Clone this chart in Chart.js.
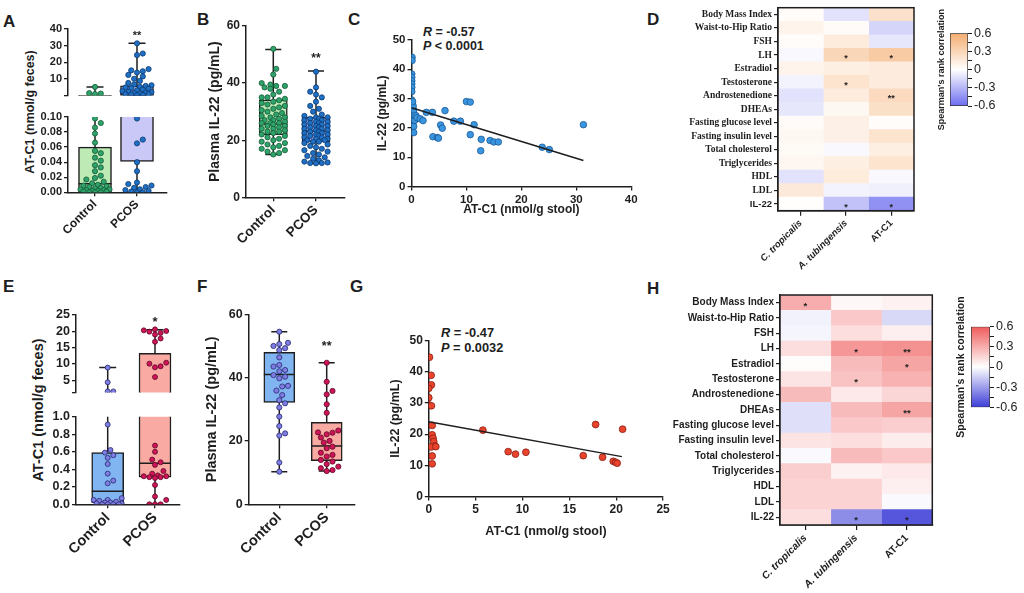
<!DOCTYPE html>
<html><head><meta charset="utf-8"><title>AT-C1 and IL-22 figure</title>
<script src="https://cdn.jsdelivr.net/npm/chart.js@4.4.1/dist/chart.umd.min.js"></script>
<style>
html,body{margin:0;padding:0;background:#fff;}
body{position:relative;width:1024px;height:593px;overflow:hidden;font-family:"Liberation Sans",Arial,sans-serif;color:#1e1e1e;}
canvas{position:absolute;}
.pl{position:absolute;font-weight:bold;font-size:17px;line-height:17px;}
.ann{position:absolute;font-weight:bold;white-space:nowrap;}
.vt{position:absolute;font-weight:bold;white-space:nowrap;transform:translate(-50%,-50%) rotate(-90deg);line-height:1;}
</style></head><body>
<div class="pl" style="left:3px;top:13px">A</div>
<div class="pl" style="left:197px;top:11px">B</div>
<div class="pl" style="left:348px;top:11px">C</div>
<div class="pl" style="left:647px;top:11px">D</div>
<div class="pl" style="left:3px;top:278px">E</div>
<div class="pl" style="left:197px;top:278px">F</div>
<div class="pl" style="left:350px;top:278px">G</div>
<div class="pl" style="left:647px;top:280px">H</div>
<div class="vt" style="left:30px;top:112px;font-size:12.5px">AT-C1 (nmol/g feces)</div>
<div class="vt" style="left:38px;top:410px;font-size:14.5px">AT-C1 (nmol/g feces)</div>
<div class="ann" style="left:423px;top:26px;font-size:12.5px;line-height:13.5px"><i>R</i> = -0.57<br><i>P</i> &lt; 0.0001</div>
<div class="ann" style="left:441px;top:326px;font-size:12.8px;line-height:14.5px"><i>R</i> = -0.47<br><i>P</i> = 0.0032</div>
<script>
// ---------------- DATA ----------------
const groups = ['Control', 'PCOS'];

// Panel A: AT-C1 in feces (cohort 1)
const aControl = [5.3, 1.6, 1.3, 1.0, 0.098, 0.092, 0.086, 0.078, 0.066, 0.055, 0.052, 0.046, 0.042, 0.036, 0.033, 0.028, 0.022, 0.019, 0.017, 0.014, 0.012, 0.010, 0.009, 0.008, 0.007, 0.006, 0.005, 0.004, 0.004, 0.003, 0.003, 0.002, 0.002, 0.001, 0.001, 0.0, 0.0, 0.0];
const aPcos = [31.4, 25.3, 24.4, 16.0, 15.2, 14.7, 13.9, 12.5, 11.6, 10.2, 8.9, 7.7, 6.8, 6.3, 5.9, 5.4, 5.0, 4.6, 4.2, 3.7, 3.3, 2.8, 2.5, 2.2, 1.9, 1.6, 1.4, 1.1, 0.9, 0.7, 0.5, 0.3, 0.098, 0.07, 0.065, 0.04, 0.028, 0.013, 0.011, 0.009, 0.007, 0.006, 0.004, 0.003, 0.002, 0.001, 0.0, 0.0];
const aControlBox = [0, 0, 0.0115, 0.06, 5.3];   // min, q1, median, q3, max
const aPcosBox = [0, 0.041, 1.2, 5.9, 31.4];
const aUpperTicks = [0.1, 10, 20, 30, 40];
const aLowerTicks = [0, 0.02, 0.04, 0.06, 0.08, 0.1];

// Panel B: plasma IL-22 (cohort 1)
const bControl = [52, 45, 43, 40, 39.5, 39, 39, 38.5, 38, 37, 36, 35, 35, 34.5, 34, 33.5, 33, 32.5, 32, 31.5, 31, 30.5, 30, 29.5, 29, 28.5, 28, 28, 27.5, 27, 27, 26.5, 26, 26, 26, 25.5, 25, 25, 24.5, 24, 24, 23.5, 23, 23, 22.5, 22, 21.5, 21, 20.5, 20, 19.5, 19, 18.5, 18, 17.5, 17, 16.5, 16, 15.5, 15];
const bPcos = [44, 38.5, 37, 36, 35, 33.5, 32, 31, 30, 29, 28.5, 28, 28, 27.5, 27.5, 27, 27, 26.5, 26.5, 26, 26, 25.5, 25.5, 25, 25, 24.5, 24.5, 24, 24, 23.5, 23.5, 23, 23, 22.5, 22.5, 22, 22, 21.5, 21.5, 21, 21, 20.5, 20.5, 20, 20, 19.5, 19.5, 19, 18.5, 18, 17.5, 17, 16.5, 16, 15.5, 15, 14.5, 14, 13.5, 13, 12.5, 12.2, 12, 12, 11.9];
const bControlBox = [15, 21.9, 25.7, 34.1, 51.8];
const bPcosBox = [11.9, 19.5, 23.2, 28.0, 44.2];
const bTicks = [0, 20, 40, 60];

// Panel C: IL-22 vs AT-C1 (cohort 1)
const cAtc1 = [0.1, 0.1, 0.05, 0.05, 0.05, 0.05, 0.05, 0.05, 0.05, 0.1, 0.1, 0.2, 0.3, 0.3, 0.4, 0.4, 0.5, 0.4, 0.3, 0.2, 0.6, 0.8, 1.0, 1.6, 2.1, 2.7, 3.8, 6.1, 3.9, 4.7, 4.9, 5.3, 5.6, 7.7, 8.9, 10.0, 10.7, 10.7, 11.4, 12.6, 12.7, 14.3, 15.0, 15.8, 23.8, 25.1, 31.3];
const cIl22 = [44.1, 43.0, 38.4, 37.3, 36.1, 35.0, 33.9, 32.4, 29.5, 28.4, 27.3, 25.6, 23.9, 22.2, 20.5, 18.4, 24.4, 26.1, 27.5, 29.0, 22.6, 24.2, 23.5, 23.1, 22.5, 25.3, 25.3, 25.9, 17.0, 16.7, 16.5, 21.0, 19.9, 22.3, 22.3, 29.0, 28.8, 17.7, 21.1, 12.2, 16.1, 15.7, 15.2, 15.2, 13.4, 12.6, 21.1];
const cFitX = [0, 31.3];
const cFitY = [26.9, 8.9];
const cXTicks = [0, 10, 20, 30, 40];
const cYTicks = [0, 10, 20, 30, 40, 50];

// Panel D: Spearman correlations (cohort 1)
const traitRows = ['Body Mass Index', 'Waist-to-Hip Ratio', 'FSH', 'LH', 'Estradiol', 'Testosterone', 'Androstenedione', 'DHEAs', 'Fasting glucose level', 'Fasting insulin level', 'Total cholesterol', 'Triglycerides', 'HDL', 'LDL', 'IL-22'];
const taxaCols = ['C. tropicalis', 'A. tubingensis', 'AT-C1'];
const dCtrop = [0.02, 0.08, 0.02, -0.03, 0.08, -0.05, -0.12, -0.10, 0.03, 0.05, 0.04, 0.06, -0.12, 0.16, 0.01];
const dAtub = [-0.12, 0.03, 0.15, 0.30, 0.12, 0.20, 0.14, 0.05, 0.10, 0.10, -0.03, 0.12, 0.15, -0.05, -0.25];
const dAtc1 = [0.22, -0.17, -0.10, 0.38, 0.14, 0.14, 0.27, 0.23, 0.02, 0.20, 0.12, 0.20, -0.03, -0.06, -0.45];
const dCtropSig = ['', '', '', '', '', '', '', '', '', '', '', '', '', '', ''];
const dAtubSig = ['', '', '', '*', '', '*', '', '', '', '', '', '', '', '', '*'];
const dAtc1Sig = ['', '', '', '*', '', '', '**', '', '', '', '', '', '', '', '*'];

// Panel E: AT-C1 in feces (cohort 2)
const eControl = [8.9, 4.4, 1.6, 1.6, 0.91, 0.62, 0.59, 0.56, 0.53, 0.46, 0.35, 0.27, 0.24, 0.07, 0.05, 0.05, 0.04, 0.03, 0.02, 0.02, 0.01, 0.01, 0.0, 0.0, 0.0, 0.0];
const ePcos = [20.6, 20.3, 20.1, 19.9, 19.5, 19.0, 17.8, 16.8, 10.4, 10.1, 9.3, 9.0, 6.0, 0.67, 0.6, 0.51, 0.48, 0.45, 0.38, 0.35, 0.33, 0.32, 0.32, 0.31, 0.31, 0.3, 0.22, 0.09, 0.05, 0.0, 0.0, 0.0];
const eControlBox = [0, 0.02, 0.15, 0.59, 8.9];
const ePcosBox = [0, 0.31, 0.47, 13.3, 20.5];
const eUpperTicks = [1.3, 5, 10, 15, 20, 25];
const eLowerTicks = [0, 0.2, 0.4, 0.6, 0.8, 1.0];

// Panel F: plasma IL-22 (cohort 2)
const fControl = [54.5, 51, 50.6, 50, 49.3, 48.7, 46.4, 44, 43.5, 42.4, 42, 40.8, 40.3, 39.8, 37.4, 37.2, 35.9, 34.5, 32.9, 31.9, 30.6, 27.7, 24.7, 22.4, 21.7, 13.2, 10.3];
const fPcos = [44.7, 38.7, 35.8, 34.7, 31.6, 28.9, 23.3, 22.7, 22.6, 22.1, 21.1, 20, 19.5, 18.2, 17.7, 16.3, 15.6, 15.1, 14, 13.5, 12.7, 11.9, 11.4, 10.8, 10.5];
const fControlBox = [10.3, 32.2, 41, 48, 54.5];
const fPcosBox = [10.5, 13.8, 18.4, 25.9, 44.7];
const fTicks = [0, 20, 40, 60];

// Panel G: IL-22 vs AT-C1 (cohort 2)
const gAtc1 = [0.07, 0.25, 0.28, 0.0, 0.0, 0.0, 0.28, 0.36, 0.36, 0.46, 0.53, 0.64, 0.25, 0.75, 0.36, 0.36, 5.77, 8.47, 9.25, 10.36, 16.48, 17.8, 18.54, 19.68, 19.93, 20.1, 20.68];
const gIl22 = [44.7, 38.9, 35.8, 34.7, 31.7, 29.4, 29.1, 22.8, 19.8, 18.7, 17.6, 16.2, 15.9, 16.0, 13.0, 10.5, 21.3, 14.4, 13.6, 14.2, 13.1, 23.1, 12.6, 11.3, 11.0, 10.7, 21.6];
const gFitX = [0, 20.6];
const gFitY = [24.0, 12.8];
const gXTicks = [0, 5, 10, 15, 20, 25];
const gYTicks = [0, 10, 20, 30, 40, 50];

// Panel H: Spearman correlations (cohort 2)
const hCtrop = [0.30, -0.04, -0.03, 0.12, 0.01, 0.10, 0.25, -0.10, -0.10, 0.10, -0.02, 0.18, 0.16, 0.16, 0.12];
const hAtub = [0.03, 0.20, 0.12, 0.38, 0.25, 0.22, 0.08, 0.25, 0.20, 0.12, 0.25, 0.05, 0.16, 0.16, -0.35];
const hAtc1 = [0.05, -0.12, 0.06, 0.40, 0.33, 0.28, 0.15, 0.33, 0.18, 0.07, 0.20, 0.08, 0.06, -0.02, -0.52];
const hCtropSig = ['*', '', '', '', '', '', '', '', '', '', '', '', '', '', ''];
const hAtubSig = ['', '', '', '*', '', '*', '', '', '', '', '', '', '', '', '*'];
const hAtc1Sig = ['', '', '', '**', '*', '', '', '**', '', '', '', '', '', '', '*'];

// Colour bar ticks
const cbTicks = [-0.6, -0.45, -0.3, -0.15, 0, 0.15, 0.3, 0.45, 0.6];
const cbTickLabels = ['-0.6', '', '-0.3', '', '0', '', '0.3', '', '0.6'];

// ---------------- STYLE / HELPERS ----------------
const INK = '#1e1e1e';
const SANS = '"Liberation Sans", Arial, Helvetica, sans-serif';
const SERIF = '"Liberation Serif", "Times New Roman", serif';
const orangeStops = [[-0.6, '#6c6cef'], [0, '#ffffff'], [0.6, '#f5ad70']];
const redStops = [[-0.6, '#3c3cd8'], [0, '#ffffff'], [0.6, '#ef5b5b']];

Chart.defaults.font.family = SANS;
Chart.defaults.font.weight = 'bold';
Chart.defaults.color = INK;
Chart.defaults.animation = false;
Chart.defaults.responsive = false;
Chart.defaults.devicePixelRatio = 1;
Chart.defaults.plugins.legend.display = false;
Chart.defaults.plugins.tooltip.enabled = false;

const textMarks = {
  id: 'textMarks',
  afterDatasetsDraw(chart, args, opts) {
    const items = (opts && opts.items) || [];
    const ctx = chart.ctx;
    items.forEach(it => {
      const xs = chart.scales.x, ys = chart.scales.y;
      ctx.save();
      ctx.font = `bold ${it.size}px ${SANS}`;
      ctx.fillStyle = INK;
      ctx.textAlign = 'center';
      ctx.textBaseline = 'alphabetic';
      ctx.fillText(it.text, xs.getPixelForValue(it.x), ys.getPixelForValue(it.y) + it.size * 0.6);
      ctx.restore();
    });
  }
};
const cellMarks = {
  id: 'cellMarks',
  afterDatasetsDraw(chart, args, opts) {
    if (!opts || !opts.on) return;
    const ctx = chart.ctx;
    ctx.save();
    ctx.fillStyle = INK;
    ctx.font = `bold ${opts.size}px ${SANS}`;
    ctx.textAlign = 'center';
    ctx.textBaseline = 'alphabetic';
    chart.data.datasets.forEach((ds, di) => {
      const meta = chart.getDatasetMeta(di);
      meta.data.forEach((el, i) => {
        const t = ds.marks ? ds.marks[i] : '';
        if (t) ctx.fillText(t, (el.x + el.base) / 2, el.y + opts.size * 0.62);
      });
    });
    const a = chart.chartArea;
    ctx.strokeStyle = INK; ctx.lineWidth = 1.5;
    ctx.strokeRect(a.left, a.top, a.right - a.left, a.bottom - a.top);
    ctx.restore();
  }
};
Chart.register(textMarks, cellMarks);

function makeCanvas(r) {
  const c = document.createElement('canvas');
  c.width = Math.round(r.w); c.height = Math.round(r.h);
  c.style.left = r.x + 'px'; c.style.top = r.y + 'px';
  c.style.width = Math.round(r.w) + 'px'; c.style.height = Math.round(r.h) + 'px';
  document.body.appendChild(c);
  return c;
}
function hexToRgb(h) { return [1, 3, 5].map(i => parseInt(h.substr(i, 2), 16)); }
function colorAt(v, stops) {
  for (let i = 0; i < stops.length - 1; i++) {
    const [v0, c0] = stops[i], [v1, c1] = stops[i + 1];
    if (v <= v1 || i === stops.length - 2) {
      const t = Math.max(0, Math.min(1, (v - v0) / (v1 - v0)));
      const a = hexToRgb(c0), b = hexToRgb(c1);
      const m = a.map((x, k) => Math.round(x + (b[k] - x) * t));
      return `rgb(${m[0]},${m[1]},${m[2]})`;
    }
  }
}
// deterministic beeswarm layout of dots (no randomness)
function swarm(vals, center, unitPx, pxPerY, d, maxHalf) {
  const idx = vals.map((_, i) => i).sort((a, b) => vals[a] - vals[b]);
  const placed = [], out = new Array(vals.length);
  const step = d * 0.5;
  const nMax = Math.max(0, Math.floor(maxHalf / step));
  const cands = [0];
  for (let k = 1; k <= nMax; k++) cands.push(k * step, -k * step);
  for (const i of idx) {
    const y = vals[i] * pxPerY;
    let best = 0, bestGap = -1;
    for (const off of cands) {
      let gap = Infinity;
      for (const q of placed) {
        const g = Math.hypot(q.x - off, q.y - y);
        if (g < gap) gap = g;
      }
      if (gap >= d) { best = off; break; }
      if (gap > bestGap) { bestGap = gap; best = off; }
    }
    placed.push({ x: best, y });
    out[i] = center + best / unitPx;
  }
  return out;
}
const gridStyle = { display: true, drawOnChartArea: false, drawTicks: true, tickLength: 4, color: INK, lineWidth: 1.3, offset: false };
const borderStyle = { display: true, color: INK, width: 1.5 };

function boxPanel(p) {
  const cv = makeCanvas(p.rect);
  const unit = p.c2 - p.c1;
  const xMin = 1 - (p.c1 - p.area.l) / unit;
  const xMax = 1 + (p.area.r - p.c1) / unit;
  const pxPerY = (p.area.b - p.area.t) / (p.yMax - p.yMin);
  const half = p.boxPx / 2 / unit, cap = p.capPx / 2 / unit;
  const yW = p.area.l - p.rect.x, xH = p.rect.y + p.rect.h - p.area.b;
  const datasets = [];
  datasets.push({
    type: 'bar', data: p.stats.map((s, i) => ({ x: i + 1, y: [s[1], s[3]] })),
    backgroundColor: p.fills, borderColor: INK, borderWidth: 1.5, borderSkipped: false,
    barThickness: p.boxPx, clip: 0, order: 3
  });
  const wl = [];
  p.stats.forEach((s, i) => {
    const x = i + 1;
    wl.push({ x, y: s[0] }, { x, y: s[1] }, { x, y: null },
      { x, y: s[3] }, { x, y: s[4] }, { x, y: null },
      { x: x - cap, y: s[0] }, { x: x + cap, y: s[0] }, { x, y: null },
      { x: x - cap, y: s[4] }, { x: x + cap, y: s[4] }, { x, y: null },
      { x: x - half, y: s[2] }, { x: x + half, y: s[2] }, { x, y: null });
  });
  datasets.push({ type: 'line', data: wl, borderColor: INK, borderWidth: 1.5, pointRadius: 0, spanGaps: false, fill: false, clip: 0, order: 2 });
  p.values.forEach((vals, i) => {
    const seg = vals.filter(v => v > p.lo && v <= p.hi);
    const xs = swarm(seg, i + 1, unit, pxPerY, p.radius * 2 + 0.6, p.boxPx / 2 - 2);
    datasets.push({
      type: 'scatter', data: seg.map((v, k) => ({ x: xs[k], y: v })),
      backgroundColor: p.ptFill[i], borderColor: p.ptEdge[i], borderWidth: 0.8,
      pointRadius: p.radius, order: 1
    });
  });
  new Chart(cv, {
    type: 'scatter',
    data: { datasets },
    options: {
      layout: { padding: { left: 0, top: p.area.t - p.rect.y, right: p.rect.x + p.rect.w - p.area.r, bottom: p.showX ? 0 : xH } },
      scales: {
        x: {
          type: 'linear', display: p.showX, min: xMin, max: xMax, offset: false,
          afterBuildTicks: s => { s.ticks = [{ value: 1 }, { value: 2 }]; },
          afterFit: s => { s.height = xH; },
          ticks: { autoSkip: false, minRotation: 45, maxRotation: 45, padding: 1, color: INK, font: { size: p.xFont, weight: 'bold' }, callback: v => groups[Math.round(v) - 1] },
          grid: gridStyle, border: borderStyle
        },
        y: {
          type: 'linear', min: p.yMin, max: p.yMax, offset: false,
          afterBuildTicks: s => { s.ticks = p.yTicks.map(v => ({ value: v })); },
          afterFit: s => { s.width = yW; },
          ticks: { autoSkip: false, padding: 2, color: INK, font: { size: p.tickFont, weight: 'bold' }, callback: p.yFmt },
          title: p.title ? { display: true, text: p.title, color: INK, font: { size: p.titleFont, weight: 'bold' }, padding: { top: 4, bottom: 4 } } : { display: false },
          grid: gridStyle, border: borderStyle
        }
      },
      plugins: { textMarks: { items: p.marks || [] } }
    }
  });
}

function scatterPanel(p) {
  const cv = makeCanvas(p.rect);
  const yW = p.area.l - p.rect.x, xH = p.rect.y + p.rect.h - p.area.b;
  new Chart(cv, {
    type: 'scatter',
    data: {
      datasets: [
        { type: 'scatter', data: p.xs.map((x, i) => ({ x, y: p.ys[i] })), backgroundColor: p.fill, borderColor: p.edge, borderWidth: 0.8, pointRadius: p.radius, order: 1 },
        { type: 'line', data: p.fitX.map((x, i) => ({ x, y: p.fitY[i] })), borderColor: INK, borderWidth: 1.5, pointRadius: 0, fill: false, order: 0 }
      ]
    },
    options: {
      layout: { padding: { left: 0, top: p.area.t - p.rect.y, right: p.rect.x + p.rect.w - p.area.r, bottom: 0 } },
      scales: {
        x: {
          type: 'linear', min: p.xTicks[0], max: p.xTicks[p.xTicks.length - 1],
          afterBuildTicks: s => { s.ticks = p.xTicks.map(v => ({ value: v })); },
          afterFit: s => { s.height = xH; },
          ticks: { autoSkip: false, padding: 2, color: INK, maxRotation: 0, font: { size: p.tickFont, weight: 'bold' } },
          title: { display: true, text: p.xTitle, color: INK, font: { size: p.titleFont, weight: 'bold' }, padding: { top: 0, bottom: 4 } },
          grid: gridStyle, border: borderStyle
        },
        y: {
          type: 'linear', min: p.yTicks[0], max: p.yTicks[p.yTicks.length - 1],
          afterBuildTicks: s => { s.ticks = p.yTicks.map(v => ({ value: v })); },
          afterFit: s => { s.width = yW; },
          ticks: { autoSkip: false, padding: 2, color: INK, font: { size: p.tickFont, weight: 'bold' } },
          title: { display: true, text: p.yTitle, color: INK, font: { size: p.titleFont, weight: 'bold' }, padding: { top: 4, bottom: 4 } },
          grid: gridStyle, border: borderStyle
        }
      }
    }
  });
}

function heatPanel(p) {
  const cv = makeCanvas(p.rect);
  const yW = p.area.l - p.rect.x, xH = p.rect.y + p.rect.h - p.area.b;
  const datasets = p.cols.map((name, j) => ({
    label: name,
    data: p.rows.map(() => 1),
    backgroundColor: p.vals[j].map(v => colorAt(v, p.stops)),
    marks: p.sig[j],
    borderWidth: 0, barPercentage: 1, categoryPercentage: 1
  }));
  new Chart(cv, {
    type: 'bar',
    data: { labels: p.rows, datasets },
    options: {
      indexAxis: 'y',
      layout: { padding: { left: 0, top: p.area.t - p.rect.y, right: p.rect.x + p.rect.w - p.area.r, bottom: 0 } },
      scales: {
        x: {
          type: 'linear', stacked: true, min: 0, max: p.cols.length, offset: false,
          afterBuildTicks: s => { s.ticks = p.cols.map((c, j) => ({ value: j + 0.5 })); },
          afterFit: s => { s.height = xH; },
          ticks: { autoSkip: false, minRotation: 45, maxRotation: 45, padding: 2, color: INK, font: c => p.colFont(c.index), callback: (v, i) => p.cols[i] },
          grid: { offset: false, drawOnChartArea: false, drawTicks: true, tickLength: 5, color: INK, lineWidth: 1.2 },
          border: { display: true, color: INK, width: 1.5 }
        },
        y: {
          type: 'category', stacked: true, offset: true,
          afterFit: s => { s.width = yW; },
          ticks: { autoSkip: false, padding: 2, color: INK, font: c => p.rowFont(c.index) },
          grid: { offset: false, drawOnChartArea: false, drawTicks: true, tickLength: 4, color: INK, lineWidth: 1.2 },
          border: { display: true, color: INK, width: 1.5 }
        }
      },
      plugins: { cellMarks: { on: true, size: p.markSize } }
    }
  });
}

function colorBar(p) {
  const cv = makeCanvas(p.rect);
  const wR = 30;
  new Chart(cv, {
    type: 'bar',
    data: {
      labels: [''],
      datasets: [{
        data: [[cbTicks[0], cbTicks[cbTicks.length - 1]]],
        backgroundColor: (ctx) => {
          const ch = ctx.chart;
          if (!ch.chartArea || !ch.scales.y) return '#ffffff';
          const y = ch.scales.y;
          const g = ch.ctx.createLinearGradient(0, y.getPixelForValue(-0.6), 0, y.getPixelForValue(0.6));
          p.stops.forEach(([v, c]) => g.addColorStop((v + 0.6) / 1.2, c));
          return g;
        },
        borderColor: '#333', borderWidth: 1, borderSkipped: false,
        barPercentage: 1, categoryPercentage: 1
      }]
    },
    options: {
      layout: { padding: { left: 0, top: p.area.t - p.rect.y, right: p.rect.x + p.rect.w - p.area.r - wR, bottom: p.rect.y + p.rect.h - p.area.b } },
      scales: {
        x: { display: false },
        y: {
          position: 'right', min: -0.6, max: 0.6,
          afterBuildTicks: s => { s.ticks = cbTicks.map(v => ({ value: v })); },
          afterFit: s => { s.width = wR; },
          ticks: { autoSkip: false, padding: 2, color: INK, font: { size: p.labelSize, weight: 'normal' }, callback: (v, i) => cbTickLabels[i] },
          grid: { drawOnChartArea: false, drawTicks: true, tickLength: 4, color: INK, lineWidth: 1 },
          border: { display: false }
        },
        yt: {
          position: 'left', min: -0.6, max: 0.6,
          afterFit: s => { s.width = p.area.l - p.rect.x; },
          ticks: { display: false },
          grid: { display: false },
          border: { display: false },
          title: { display: true, text: "Spearman's rank correlation", color: INK, font: { size: p.titleSize, weight: 'bold' }, padding: 0 }
        }
      }
    }
  });
}

// ---------------- PANELS ----------------
const greenFill = ['#bdeab5', '#c9c8f7'];
const abPtFill = ['#2fa36b', '#1f6fc4'];
const abPtEdge = ['#145a35', '#0d3a6e'];
const efFill = ['#80b5f2', '#f9aaa3'];
const efPtFill = ['#7d7de3', '#d0145a'];
const efPtEdge = ['#2a2a70', '#5a0a25'];

// A (broken axis: two stacked charts)
boxPanel({ rect: { x: 19, y: 19, w: 160, h: 96 }, area: { l: 68, t: 29, r: 167, b: 105.3 }, c1: 95, c2: 137,
  yMin: 0.1, yMax: 40, yTicks: aUpperTicks, yFmt: v => (v < 1 ? '' : String(v)), showX: false,
  lo: 0.1, hi: Infinity, stats: [aControlBox, aPcosBox], values: [aControl, aPcos],
  fills: greenFill, ptFill: abPtFill, ptEdge: abPtEdge, radius: 2.6, boxPx: 33, capPx: 17,
  tickFont: 11, xFont: 12, marks: [{ x: 2, y: 38, text: '**', size: 11 }] });
boxPanel({ rect: { x: 19, y: 108, w: 160, h: 140 }, area: { l: 68, t: 117, r: 167, b: 192.3 }, c1: 95, c2: 137,
  yMin: 0, yMax: 0.1, yTicks: aLowerTicks, yFmt: v => v.toFixed(2), showX: true,
  lo: -Infinity, hi: 0.1, stats: [aControlBox, aPcosBox], values: [aControl, aPcos],
  fills: greenFill, ptFill: abPtFill, ptEdge: abPtEdge, radius: 2.6, boxPx: 33, capPx: 17,
  tickFont: 11, xFont: 12 });

// B
boxPanel({ rect: { x: 203, y: 15, w: 150, h: 235 }, area: { l: 246, t: 26, r: 345, b: 197.3 }, c1: 273.3, c2: 316,
  yMin: 0, yMax: 60, yTicks: bTicks, yFmt: v => String(v), showX: true, title: 'Plasma IL-22 (pg/mL)', titleFont: 14,
  lo: -Infinity, hi: Infinity, stats: [bControlBox, bPcosBox], values: [bControl, bPcos],
  fills: greenFill, ptFill: abPtFill, ptEdge: abPtEdge, radius: 2.6, boxPx: 28, capPx: 16,
  tickFont: 12, xFont: 13.5, marks: [{ x: 2, y: 50, text: '**', size: 12 }] });

// C
scatterPanel({ rect: { x: 370.5, y: 25, w: 271, h: 196.2 }, area: { l: 411, t: 40, r: 630.7, b: 186.7 },
  xs: cAtc1, ys: cIl22, fitX: cFitX, fitY: cFitY, xTicks: cXTicks, yTicks: cYTicks,
  xTitle: 'AT-C1 (nmol/g stool)', yTitle: 'IL-22 (pg/mL)', fill: '#3a95e0', edge: '#1c5a96', radius: 3.3,
  tickFont: 11.5, titleFont: 12 });

// D
heatPanel({ rect: { x: 645, y: 0, w: 278, h: 272 }, area: { l: 778, t: 6, r: 914, b: 210.7 },
  rows: traitRows, cols: taxaCols, vals: [dCtrop, dAtub, dAtc1], sig: [dCtropSig, dAtubSig, dAtc1Sig], stops: orangeStops,
  rowFont: i => ({ family: i === 14 ? SANS : SERIF, size: 9.5, weight: 'bold' }),
  colFont: i => ({ family: SANS, size: 9.5, weight: 'bold', style: i < 2 ? 'italic' : 'normal' }), markSize: 9 });
colorBar({ rect: { x: 936, y: 0, w: 64, h: 150 }, area: { l: 950, t: 33.3, r: 968, b: 106 }, stops: orangeStops, titleSize: 9, labelSize: 12.5 });

// E (broken axis)
boxPanel({ rect: { x: 48, y: 305, w: 142, h: 108 }, area: { l: 76, t: 315, r: 180, b: 402.7 }, c1: 107.7, c2: 155,
  yMin: 1.3, yMax: 25, yTicks: eUpperTicks, yFmt: v => (v < 2 ? '' : String(v)), showX: false,
  lo: 1.0, hi: Infinity, stats: [eControlBox, ePcosBox], values: [eControl, ePcos],
  fills: efFill, ptFill: efPtFill, ptEdge: efPtEdge, radius: 2.5, boxPx: 32, capPx: 17,
  tickFont: 12.5, xFont: 14.5, marks: [{ x: 2, y: 24, text: '*', size: 13 }] });
boxPanel({ rect: { x: 48, y: 407, w: 142, h: 160 }, area: { l: 76, t: 416.7, r: 180, b: 504.3 }, c1: 107.7, c2: 155,
  yMin: 0, yMax: 1, yTicks: eLowerTicks, yFmt: v => v.toFixed(1), showX: true,
  lo: -Infinity, hi: 1.0, stats: [eControlBox, ePcosBox], values: [eControl, ePcos],
  fills: efFill, ptFill: efPtFill, ptEdge: efPtEdge, radius: 2.5, boxPx: 32, capPx: 17,
  tickFont: 12.5, xFont: 14.5 });

// F
boxPanel({ rect: { x: 199, y: 300, w: 166, h: 270 }, area: { l: 248.7, t: 314.3, r: 355, b: 504.3 }, c1: 279.3, c2: 326.7,
  yMin: 0, yMax: 60, yTicks: fTicks, yFmt: v => String(v), showX: true, title: 'Plasma IL-22 (pg/mL)', titleFont: 14.5,
  lo: -Infinity, hi: Infinity, stats: [fControlBox, fPcosBox], values: [fControl, fPcos],
  fills: efFill, ptFill: efPtFill, ptEdge: efPtEdge, radius: 2.6, boxPx: 31, capPx: 16,
  tickFont: 12.5, xFont: 14.5, marks: [{ x: 2, y: 51, text: '**', size: 12.5 }] });

// G
scatterPanel({ rect: { x: 383.5, y: 326, w: 290, h: 217.2 }, area: { l: 428.3, t: 340.7, r: 662.6, b: 496.7 },
  xs: gAtc1, ys: gIl22, fitX: gFitX, fitY: gFitY, xTicks: gXTicks, yTicks: gYTicks,
  xTitle: 'AT-C1 (nmol/g stool)', yTitle: 'IL-22 (pg/mL)', fill: '#e8432d', edge: '#8a2014', radius: 3.4,
  tickFont: 12, titleFont: 12.5 });

// H
heatPanel({ rect: { x: 640, y: 285, w: 300, h: 305 }, area: { l: 780, t: 295, r: 932.3, b: 525 },
  rows: traitRows, cols: taxaCols, vals: [hCtrop, hAtub, hAtc1], sig: [hCtropSig, hAtubSig, hAtc1Sig], stops: redStops,
  rowFont: i => ({ family: SANS, size: 10, weight: 'bold' }),
  colFont: i => ({ family: SANS, size: 10.3, weight: 'bold', style: i < 2 ? 'italic' : 'normal' }), markSize: 9.5 });
colorBar({ rect: { x: 955, y: 262, w: 69, h: 210 }, area: { l: 971, t: 326.7, r: 990, b: 407.3 }, stops: redStops, titleSize: 10.5, labelSize: 12.5 });
</script>
</body></html>
